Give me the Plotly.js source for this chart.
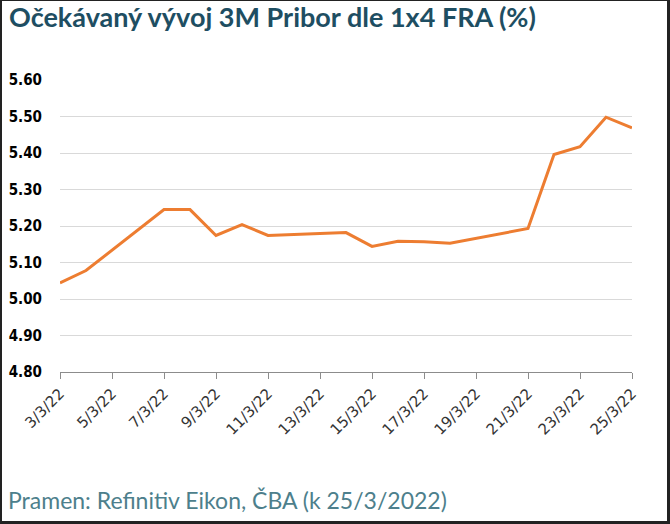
<!DOCTYPE html>
<html>
<head>
<meta charset="utf-8">
<script src="https://cdn.plot.ly/plotly-3.0.1.min.js"></script>
<style>
    html, body { margin: 0; padding: 0; background: #fff; }
    #frame {
        width: 670px; height: 524px; box-sizing: border-box;
        border-top: 1px solid #222; border-left: 2px solid #222;
        border-right: 3px solid #222; border-bottom: 3px solid #222;
        position: relative; overflow: hidden;
    }
    #plot { position: absolute; left: -2px; top: -1px; width: 670px; height: 524px; }
</style>
</head>
<body>
<div id="frame"><div id="plot"></div></div>
<script>
    // 3M Pribor implied by 1x4 FRA, trading days only
    const dates = ['2022-03-03', '2022-03-04', '2022-03-07', '2022-03-08', '2022-03-09',
        '2022-03-10', '2022-03-11', '2022-03-14', '2022-03-15', '2022-03-16',
        '2022-03-17', '2022-03-18', '2022-03-21', '2022-03-22', '2022-03-23',
        '2022-03-24', '2022-03-25'];
    const fra = [5.044, 5.078, 5.245, 5.245, 5.174,
        5.204, 5.174, 5.182, 5.144, 5.158,
        5.157, 5.153, 5.193, 5.396, 5.417,
        5.498, 5.469];
    const yTicks = [4.8, 4.9, 5.0, 5.1, 5.2, 5.3, 5.4, 5.5, 5.6];
    const xTicks = ['2022-03-03', '2022-03-05', '2022-03-07', '2022-03-09', '2022-03-11',
        '2022-03-13', '2022-03-15', '2022-03-17', '2022-03-19', '2022-03-21',
        '2022-03-23', '2022-03-25'];
    const xLabels = ['3/3/22', '5/3/22', '7/3/22', '9/3/22', '11/3/22', '13/3/22',
        '15/3/22', '17/3/22', '19/3/22', '21/3/22', '23/3/22', '25/3/22'];

    const trace = {
        x: dates, y: fra, type: 'scatter', mode: 'lines',
        line: { color: '#ED7D31', width: 3 },
        hoverinfo: 'skip'
    };

    const layout = {
        width: 670, height: 524,
        margin: { l: 60, r: 38, t: 80, b: 152 },
        paper_bgcolor: '#fff', plot_bgcolor: '#fff',
        showlegend: false,
        title: {
            text: '<b>Očekávaný vývoj 3M Pribor dle 1x4 FRA (%)</b>',
            font: { family: 'Lato', size: 27, color: '#1e4e62' },
            x: 0, xref: 'container', xanchor: 'left', y: 1, yref: 'container', yanchor: 'top',
            pad: { t: 8, l: 9 }
        },
        xaxis: {
            type: 'date',
            range: ['2022-03-03', '2022-03-25'],
            tickmode: 'array', tickvals: xTicks, ticktext: xLabels,
            tickangle: -45,
            tickfont: { family: 'DejaVu Sans', size: 15, color: '#333' },
            ticks: 'outside', ticklen: 6, tickcolor: '#8c8c8c',
            showline: true, linecolor: '#8c8c8c', linewidth: 1,
            showgrid: false, zeroline: false, fixedrange: true
        },
        yaxis: {
            range: [4.8, 5.6],
            tickmode: 'array', tickvals: yTicks,
            tickformat: '.2f',
            tickfont: { family: 'DejaVu Sans Condensed, DejaVu Sans', size: 15, color: '#000', weight: 'bold' },
            ticks: 'outside', ticklen: 14, tickcolor: 'rgba(0,0,0,0)',
            showgrid: true, gridcolor: '#d9d9d9', gridwidth: 1,
            showline: false, zeroline: false, fixedrange: true
        },
        annotations: [{
            text: 'Pramen: Refinitiv Eikon, ČBA (k 25/3/2022)',
            xref: 'paper', yref: 'paper', x: -0.094, y: -0.438,
            xanchor: 'left', yanchor: 'middle', showarrow: false,
            font: { family: 'Lato', size: 23, color: '#4d7f8c' }
        }]
    };

    Plotly.newPlot('plot', [trace], layout, { displayModeBar: false, staticPlot: true });
</script>
</body>
</html>
